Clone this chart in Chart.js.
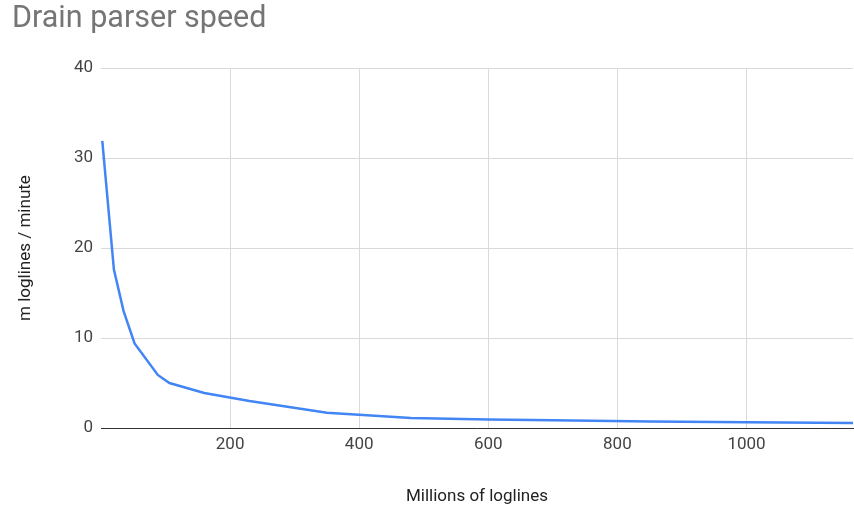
<!DOCTYPE html>
<html>
<head>
<meta charset="utf-8">
<script src="https://cdn.jsdelivr.net/npm/chart.js@4/dist/chart.umd.min.js"></script>
<style>
  html, body { margin: 0; padding: 0; background: #fff; }
  #wrap { width: 854px; height: 507px; }
</style>
</head>
<body>
<div id="wrap"><canvas id="speedChart" width="854" height="507"></canvas></div>
<script>
// Data
const loglines = [2, 20, 35, 52, 88, 106, 160, 230, 350, 480, 600, 700, 850, 1000, 1170];
const speed = [31.9, 17.6, 13.0, 9.4, 5.9, 5.0, 3.9, 3.0, 1.7, 1.1, 0.95, 0.85, 0.72, 0.65, 0.55];
const xTicks = [200, 400, 600, 800, 1000];
const yTicks = [0, 10, 20, 30, 40];

const points = loglines.map((x, i) => ({ x: x, y: speed[i] }));

const textColor = '#444444';
const gridColor = '#d9d9d9';

const ctx = document.getElementById('speedChart');
const speedChart = new Chart(ctx, {
    type: 'line',
    data: {
        datasets: [{
            label: 'm loglines / minute',
            data: points,
            borderColor: '#4285f4',
            backgroundColor: '#4285f4',
            borderWidth: 2.5,
            pointRadius: 0,
            tension: 0,
            fill: false
        }]
    },
    options: {
        responsive: false,
        animation: false,
        layout: { padding: { left: 12, right: 1, top: 0, bottom: 0 } },
        plugins: {
            legend: { display: false },
            tooltip: { enabled: false },
            title: {
                display: true,
                text: 'Drain parser speed',
                align: 'start',
                color: '#757575',
                font: { family: 'Roboto', size: 30.5, weight: 'normal' },
                padding: { top: 1, bottom: 30.5 }
            }
        },
        scales: {
            x: {
                type: 'linear',
                min: 0,
                max: 1165,
                afterBuildTicks: function(scale) {
                    scale.ticks = xTicks.map(v => ({ value: v }));
                },
                grid: { color: gridColor, drawTicks: false },
                border: { display: true, color: '#333333', width: 1 },
                ticks: {
                    color: textColor,
                    font: { family: 'Roboto', size: 17 },
                    padding: 7,
                    callback: function(value) { return String(value); }
                },
                title: {
                    display: true,
                    text: 'Millions of loglines',
                    color: '#222222',
                    font: { family: 'Roboto', size: 17 },
                    padding: { top: 20, bottom: 0 }
                },
                afterFit: function(scale) { scale.height = 79; }
            },
            y: {
                min: 0,
                max: 40,
                afterBuildTicks: function(scale) {
                    scale.ticks = yTicks.map(v => ({ value: v }));
                },
                grid: { color: gridColor, drawTicks: false },
                border: { display: false },
                ticks: { color: textColor, font: { family: 'Roboto', size: 17 }, padding: 8 },
                title: {
                    display: true,
                    text: 'm loglines / minute',
                    color: '#222222',
                    font: { family: 'Roboto', size: 17 },
                    padding: { top: 4, bottom: 0 }
                },
                afterFit: function(scale) { scale.width = 89; }
            }
        }
    }
});
</script>
</body>
</html>
